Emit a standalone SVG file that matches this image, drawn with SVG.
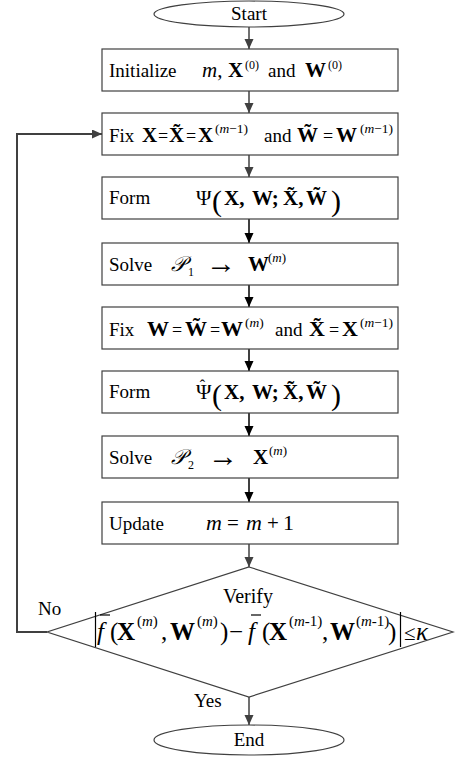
<svg xmlns="http://www.w3.org/2000/svg" width="459" height="758" viewBox="0 0 459 758">
<style>
text{font-family:"Liberation Serif","Times New Roman","DejaVu Serif",serif;fill:#000}
.t{font-size:19px}
.m{font-size:21px;font-weight:bold}
.m2{font-size:22px;font-weight:bold}
.mi{font-size:21px;font-style:italic}
.u{font-size:21px}
.eq{font-size:18px}
.ar{font-size:30px}
.s{font-size:12px}
.s2{font-size:13.5px}
.si{font-size:13px;font-style:italic}
.p{font-size:30px}
.f{font-size:25px}
.fb{font-size:25px;font-weight:bold}
.fs{font-size:15px}
.box{fill:#fff;stroke:#404040;stroke-width:1.2}
.ga{stroke:#404040;stroke-width:1.5;fill:none;marker-end:url(#ag)}
.ba{stroke:#000;stroke-width:1.5;fill:none;marker-end:url(#ab)}
.bar{stroke:#000;stroke-width:1.2}
</style>
<defs>
<marker id="ag" markerUnits="userSpaceOnUse" markerWidth="10" markerHeight="10" refX="10" refY="4.5" orient="auto"><path d="M0,0 L10,4.5 L0,9 z" fill="#404040"/></marker>
<marker id="ab" markerUnits="userSpaceOnUse" markerWidth="10" markerHeight="10" refX="10" refY="4.5" orient="auto"><path d="M0,0 L10,4.5 L0,9 z" fill="#000"/></marker>
</defs>
<g id="connectors">
<line class="ga" x1="249" y1="27" x2="249" y2="49"/>
<line class="ga" x1="249" y1="91" x2="249" y2="113"/>
<line class="ga" x1="249" y1="155" x2="249" y2="177"/>
<line class="ba" x1="249" y1="219" x2="249" y2="243"/>
<line class="ba" x1="249" y1="285" x2="249" y2="307"/>
<line class="ba" x1="249" y1="349" x2="249" y2="371"/>
<line class="ba" x1="249" y1="413" x2="249" y2="436"/>
<line class="ba" x1="249" y1="478" x2="249" y2="502"/>
<line class="ga" x1="249" y1="544" x2="249" y2="567"/>
<line class="ga" x1="249" y1="697" x2="249" y2="725"/>
<polyline class="ga" style="stroke-width:2" points="47,632 17,632 17,134 102,134"/>
</g>
<g id="start">
<ellipse cx="249" cy="14" rx="95" ry="13" class="box"/>
<text class="t" x="249" y="20" text-anchor="middle">Start</text>
</g>
<g id="init">
<rect x="102" y="49" width="296" height="42" class="box"/>
<text class="t" x="109" y="77">Initialize</text>
<text class="mi" x="202" y="77">m<tspan style="font-style:normal">,</tspan></text>
<text class="m" x="228" y="77">X</text>
<text class="s" x="245" y="69">(0)</text>
<text class="t" x="268" y="77">and</text>
<text class="m" x="305" y="77">W</text>
<text class="s" x="328" y="69">(0)</text>
</g>
<g id="fix1">
<rect x="102" y="113" width="296" height="42" class="box"/>
<text class="t" x="109" y="142">Fix</text>
<text class="m" x="142" y="142">X</text>
<text class="eq" x="163" y="142" text-anchor="middle">=</text>
<text class="m" x="169" y="142">X̃</text>
<text class="eq" x="191" y="142" text-anchor="middle">=</text>
<text class="m" x="198" y="142">X</text>
<text class="s2" x="215" y="133">(<tspan font-style="italic">m</tspan>−1)</text>
<text class="t" x="264" y="142">and</text>
<text class="m" x="297" y="142">W̃</text>
<text class="eq" x="328" y="142" text-anchor="middle">=</text>
<text class="m" x="336" y="142">W</text>
<text class="s2" x="360" y="133">(<tspan font-style="italic">m</tspan>−1)</text>
</g>
<g id="form1">
<rect x="102" y="177" width="296" height="42" class="box"/>
<text class="t" x="109" y="204">Form</text>
<text class="u" x="196" y="205">Ψ</text>
<text class="p" x="212" y="211">(</text>
<text class="m" x="224" y="205">X,</text>
<text class="m" x="252" y="205">W;</text>
<text class="m" x="283" y="205">X̃,</text>
<text class="m" x="306" y="205">W̃</text>
<text class="p" x="331" y="211">)</text>
</g>
<g id="solve1">
<rect x="102" y="243" width="296" height="42" class="box"/>
<text class="t" x="109" y="271">Solve</text>
<text class="mi" x="171" y="271">𝒫</text>
<text class="s" x="188" y="276">1</text>
<text class="ar" x="206" y="273">→</text>
<text class="m" x="248" y="271">W</text>
<text class="si" x="268" y="262"><tspan font-style="normal">(</tspan>m<tspan font-style="normal">)</tspan></text>
</g>
<g id="fix2">
<rect x="102" y="307" width="296" height="42" class="box"/>
<text class="t" x="109" y="336">Fix</text>
<text class="m2" x="147" y="336">W</text>
<text class="eq" x="177" y="336" text-anchor="middle">=</text>
<text class="m2" x="185" y="336">W̃</text>
<text class="eq" x="215" y="336" text-anchor="middle">=</text>
<text class="m2" x="221" y="336">W</text>
<text class="s2" x="245" y="327">(<tspan font-style="italic">m</tspan>)</text>
<text class="t" x="275" y="336">and</text>
<text class="m2" x="309" y="336">X̃</text>
<text class="eq" x="334" y="336" text-anchor="middle">=</text>
<text class="m2" x="342" y="336">X</text>
<text class="s2" x="360" y="327">(<tspan font-style="italic">m</tspan>−1)</text>
</g>
<g id="form2">
<rect x="102" y="371" width="296" height="42" class="box"/>
<text class="t" x="109" y="398">Form</text>
<text class="u" x="196" y="399">Ψ</text>
<text x="202.5" y="391" text-anchor="middle" style="font-size:16px">ˆ</text>
<text class="p" x="212" y="405">(</text>
<text class="m" x="224" y="399">X,</text>
<text class="m" x="252" y="399">W;</text>
<text class="m" x="283" y="399">X̃,</text>
<text class="m" x="306" y="399">W̃</text>
<text class="p" x="331" y="405">)</text>
</g>
<g id="solve2">
<rect x="102" y="436" width="296" height="42" class="box"/>
<text class="t" x="109" y="464">Solve</text>
<text class="mi" x="171" y="464">𝒫</text>
<text class="s" x="188" y="469">2</text>
<text class="ar" x="208" y="466">→</text>
<text class="m" x="253" y="464">X</text>
<text class="si" x="269" y="455"><tspan font-style="normal">(</tspan>m<tspan font-style="normal">)</tspan></text>
</g>
<g id="update">
<rect x="102" y="502" width="296" height="42" class="box"/>
<text class="t" x="109" y="530">Update</text>
<text class="mi" x="206" y="530" style="font-size:22px">m</text>
<text class="u" x="233" y="530" text-anchor="middle">=</text>
<text class="mi" x="246" y="530" style="font-size:22px">m</text>
<text class="u" x="273" y="530" text-anchor="middle">+</text>
<text class="u" x="283" y="530" style="font-size:22px">1</text>
</g>
<g id="verify">
<polygon points="249,567 453,632 249,697 47,632" class="box"/>
<text class="t" x="223" y="603" style="font-size:20px">Verify</text>
<line class="bar" x1="95.5" y1="612" x2="95.5" y2="647"/>
<line class="bar" x1="400.5" y1="612" x2="400.5" y2="647"/>
<line class="bar" x1="100" y1="615" x2="110" y2="615"/>
<line class="bar" x1="251" y1="615" x2="261" y2="615"/>
<text class="f" x="97" y="640" font-style="italic">f</text>
<text class="f" x="110" y="640">(</text>
<text class="fb" x="117" y="640">X</text>
<text class="fs" x="137" y="626">(<tspan font-style="italic">m</tspan>)</text>
<text class="f" x="161" y="640">,</text>
<text class="fb" x="170" y="640">W</text>
<text class="fs" x="197" y="626">(<tspan font-style="italic">m</tspan>)</text>
<text class="f" x="220" y="640">)</text>
<text class="f" x="229" y="640">−</text>
<text class="f" x="248" y="640" font-style="italic">f</text>
<text class="f" x="262" y="640">(</text>
<text class="fb" x="269" y="640">X</text>
<text class="fs" x="289" y="626">(<tspan font-style="italic">m</tspan>-1)</text>
<text class="f" x="322" y="640">,</text>
<text class="fb" x="330" y="640">W</text>
<text class="fs" x="356" y="626">(<tspan font-style="italic">m</tspan>-1)</text>
<text class="f" x="388" y="640">)</text>
<text x="404" y="640" style="font-size:21px">≤</text>
<text class="f" x="416" y="640" font-style="italic">κ</text>
<text class="t" x="38" y="615">No</text>
<text class="t" x="194" y="707">Yes</text>
</g>
<g id="end">
<ellipse cx="249" cy="740" rx="95" ry="15" class="box"/>
<text class="t" x="249" y="746" text-anchor="middle">End</text>
</g>
</svg>
